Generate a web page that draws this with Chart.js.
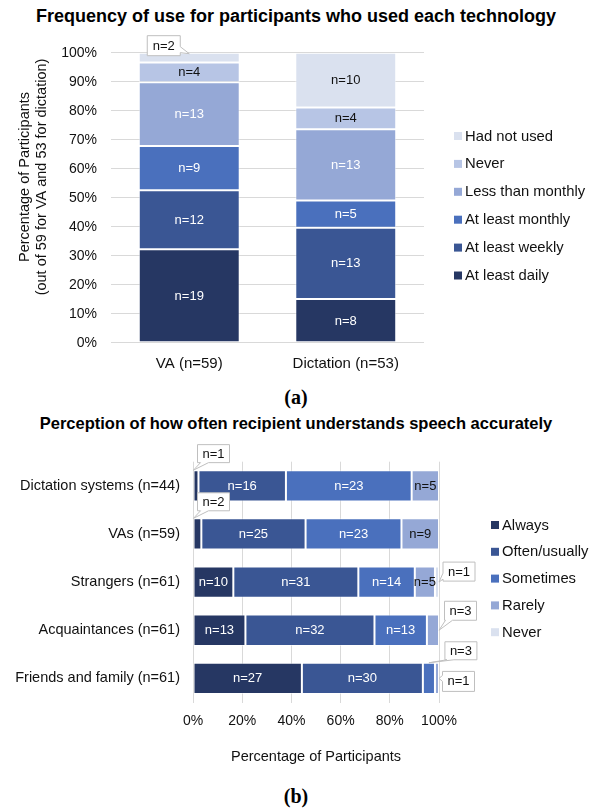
<!DOCTYPE html>
<html>
<head>
<meta charset="utf-8">
<script src="https://cdn.jsdelivr.net/npm/chart.js@4.4.1/dist/chart.umd.min.js"></script>
<style>
  body { margin: 0; background: #fff; font-family: "Liberation Sans", Arial, sans-serif; }
  #wrap { position: relative; width: 592px; height: 809px; overflow: hidden; }
  canvas { position: absolute; left: 0; }
  .ttl { position: absolute; left: 0; width: 592px; text-align: center; font-weight: bold; line-height: 22px; color: #000; }
  .cap { position: absolute; left: 0; width: 592px; text-align: center; font-family: "Liberation Serif", "DejaVu Serif", serif; font-weight: bold; font-size: 20px; line-height: 24px; color: #000; }
</style>
</head>
<body>
<div id="wrap">
  <div class="ttl" style="top:5px; font-size:18px">Frequency of use for participants who used each technology</div>
  <canvas id="chartA" width="592" height="385" style="top:0"></canvas>
  <div class="cap" style="top:385px">(a)</div>

  <div class="ttl" style="top:412px; font-size:16.5px">Perception of how often recipient understands speech accurately</div>
  <canvas id="chartB" width="592" height="340" style="top:440px"></canvas>
  <div class="cap" style="top:784px">(b)</div>
</div>

<script>
// ---- chart (a) data : counts per technology ----
const techLabels = ['VA (n=59)', 'Dictation (n=53)'];
const freqNames = ['At least daily', 'At least weekly', 'At least monthly', 'Less than monthly', 'Never', 'Had not used'];
const atLeastDaily = [19, 8];
const atLeastWeekly = [12, 13];
const atLeastMonthly = [9, 5];
const lessThanMonthly = [13, 13];
const neverUsed = [4, 4];
const hadNotUsed = [2, 10];
const yTitleA = ['Percentage of Participants', '(out of 59 for VA and 53 for dictation)'];

// ---- chart (b) data : counts per recipient ----
const groupLabels = ['Dictation systems (n=44)', 'VAs (n=59)', 'Strangers (n=61)', 'Acquaintances (n=61)', 'Friends and family (n=61)'];
const accNames = ['Always', 'Often/usually', 'Sometimes', 'Rarely', 'Never'];
const always = [1, 2, 10, 13, 27];
const oftenUsually = [16, 25, 31, 32, 30];
const sometimes = [23, 23, 14, 13, 3];
const rarely = [5, 9, 5, 3, 1];
const never = [0, 0, 1, 0, 0];
const xTitleB = 'Percentage of Participants';

const FONT = '"Liberation Sans", Arial, sans-serif';
Chart.defaults.font.family = FONT;
Chart.defaults.color = '#111';

// colours, darkest first
const colorsA = ['#263763', '#3a5694', '#4a70bd', '#95a8d6', '#b7c5e5', '#dae1ef'];
const textA = ['#fff', '#fff', '#fff', '#fff', '#111', '#111'];
const colorsB = ['#263763', '#3a5694', '#4a70bd', '#95a8d6', '#dae1ef'];
const textB = ['#fff', '#fff', '#fff', '#111', '#111'];

// counts -> percent of each bar's total
function toPercent(list) {
  const totals = list[0].map((_, i) => list.reduce((s, arr) => s + arr[i], 0));
  return list.map(arr => arr.map((v, i) => v / totals[i] * 100));
}

function makeSets(names, list, colors, txt, catPct) {
  const pct = toPercent(list);
  return names.map((name, k) => ({
    label: name,
    data: pct[k],
    counts: list[k],
    labelColor: txt[k],
    backgroundColor: colors[k],
    borderColor: 'rgba(255,255,255,0.5)',
    borderWidth: 1,
    borderSkipped: false,
    barPercentage: 1,
    categoryPercentage: catPct
  }));
}

// little boxed label with a pointer, like excel's callouts
function drawCallout(ctx, text, tx, ty, c) {
  const w = c.w || 32, h = c.h || 18;
  const L = tx + c.box[0] - w / 2, T = ty + c.box[1] - h / 2, R = L + w, B = T + h;
  const o1 = c.gap[0], o2 = c.gap[1];
  ctx.beginPath();
  ctx.moveTo(L, T);
  ctx.lineTo(R, T);
  if (c.side === 'right') { ctx.lineTo(R, T + o1); ctx.lineTo(tx, ty); ctx.lineTo(R, T + o2); }
  ctx.lineTo(R, B);
  if (c.side === 'bottom') { ctx.lineTo(L + o2, B); ctx.lineTo(tx, ty); ctx.lineTo(L + o1, B); }
  ctx.lineTo(L, B);
  if (c.side === 'left') { ctx.lineTo(L, T + o2); ctx.lineTo(tx, ty); ctx.lineTo(L, T + o1); }
  ctx.closePath();
  ctx.fillStyle = '#fff';
  ctx.fill();
  ctx.strokeStyle = '#bfbfbf';
  ctx.lineWidth = 1;
  ctx.stroke();
  ctx.fillStyle = '#111';
  ctx.fillText(text, (L + R) / 2, (T + B) / 2 + 0.5);
}

const extras = {
  id: 'extras',
  afterDatasetsDraw(chart, args, opts) {
    const ctx = chart.ctx;
    const horiz = chart.options.indexAxis === 'y';
    ctx.save();
    ctx.font = '13px ' + FONT;
    ctx.textAlign = 'center';
    ctx.textBaseline = 'middle';
    const later = [];
    chart.data.datasets.forEach((ds, di) => {
      chart.getDatasetMeta(di).data.forEach((bar, i) => {
        const n = ds.counts[i];
        if (!n) return;
        const p = bar.getProps(['x', 'y', 'base', 'width', 'height'], true);
        let left, top, w, h;
        if (horiz) {
          left = Math.min(p.base, p.x); w = Math.abs(p.x - p.base);
          top = p.y - p.height / 2; h = p.height;
        } else {
          left = p.x - p.width / 2; w = p.width;
          top = Math.min(p.y, p.base); h = Math.abs(p.base - p.y);
        }
        const c = (opts.callouts || []).find(q => q.ds === di && q.i === i);
        if (c) {
          later.push([ 'n=' + n, left + c.tip[0] * w, top + c.tip[1] * h, c ]);
        } else {
          ctx.fillStyle = ds.labelColor;
          ctx.fillText('n=' + n, left + w / 2, top + h / 2 + 0.5);
        }
      });
    });
    later.forEach(a => drawCallout(ctx, a[0], a[1], a[2], a[3]));
    ctx.restore();
  },
  afterDraw(chart, args, opts) {
    const ctx = chart.ctx;
    ctx.save();
    // legend on the right
    const lg = opts.legend;
    if (lg) {
      let sets = chart.data.datasets.slice();
      if (lg.reverse) sets.reverse();
      ctx.font = '14.8px ' + FONT;
      ctx.textAlign = 'left';
      ctx.textBaseline = 'middle';
      sets.forEach((ds, k) => {
        const y = lg.y + k * lg.step;
        ctx.fillStyle = ds.backgroundColor;
        ctx.fillRect(lg.x, y - 4, 8, 8);
        ctx.fillStyle = '#111';
        ctx.fillText(ds.label, lg.x + 11, y + 0.5);
      });
    }
    // rotated two-line y title
    const yt = opts.yTitle;
    if (yt) {
      ctx.font = '14.5px ' + FONT;
      ctx.textAlign = 'center';
      ctx.textBaseline = 'middle';
      ctx.fillStyle = '#111';
      yt.lines.forEach((line, k) => {
        ctx.save();
        ctx.translate(yt.x[k], yt.y);
        ctx.rotate(-Math.PI / 2);
        ctx.fillText(line, 0, 0);
        ctx.restore();
      });
    }
    ctx.restore();
  }
};

// ---------- chart (a) ----------
new Chart(document.getElementById('chartA'), {
  type: 'bar',
  data: {
    labels: techLabels,
    datasets: makeSets(freqNames,
      [atLeastDaily, atLeastWeekly, atLeastMonthly, lessThanMonthly, neverUsed, hadNotUsed],
      colorsA, textA, 0.645)
  },
  options: {
    responsive: false,
    animation: false,
    devicePixelRatio: 1,
    layout: { padding: { top: 52.7, right: 168, bottom: 0, left: 0 } },
    plugins: {
      legend: { display: false },
      title: { display: false },
      tooltip: { enabled: false },
      extras: {
        legend: { x: 454, y: 136, step: 27.9, reverse: true },
        yTitle: { lines: yTitleA, x: [25, 42], y: 177 },
        callouts: [
          { ds: 5, i: 0, tip: [0.5, 0.1], box: [-25.5, -8], side: 'right', gap: [11, 17], w: 33, h: 20 }
        ]
      }
    },
    scales: {
      x: {
        stacked: true,
        grid: { display: false, drawTicks: false },
        border: { display: false },
        ticks: { font: { size: 15 }, padding: 12 },
        afterFit: s => { s.height = 42.3; }
      },
      y: {
        stacked: true,
        min: 0,
        max: 100,
        ticks: { stepSize: 10, font: { size: 14 }, padding: 14, callback: v => v + '%' },
        grid: { color: '#d9d9d9', drawTicks: false },
        border: { display: false },
        afterFit: s => { s.width = 111; }
      }
    }
  },
  plugins: [extras]
});

// ---------- chart (b) ----------
new Chart(document.getElementById('chartB'), {
  type: 'bar',
  data: {
    labels: groupLabels,
    datasets: makeSets(accNames, [always, oftenUsually, sometimes, rarely, never], colorsB, textB, 0.65)
  },
  options: {
    indexAxis: 'y',
    responsive: false,
    animation: false,
    devicePixelRatio: 1,
    layout: { padding: { top: 17.5, right: 153, bottom: 14.6, left: 0 } },
    plugins: {
      legend: { display: false },
      title: { display: false },
      tooltip: { enabled: false },
      extras: {
        legend: { x: 491, y: 85, step: 26.8, reverse: false },
        callouts: [
          { ds: 0, i: 0, tip: [0, 0], box: [20, -16.5], side: 'bottom', gap: [3, 11] },
          { ds: 0, i: 1, tip: [0, 0], box: [20, -16.5], side: 'bottom', gap: [3, 11] },
          { ds: 4, i: 2, tip: [1, 0.5], box: [20, -10.5], side: 'left', gap: [11, 17], h: 19 },
          { ds: 3, i: 3, tip: [1, 0.5], box: [21.5, -19.5], side: 'bottom', gap: [1, 8], h: 19 },
          { ds: 2, i: 4, tip: [0.5, 0], box: [32, -12], side: 'bottom', gap: [2, 9] },
          { ds: 3, i: 4, tip: [1, 0.5], box: [19.5, 3], side: 'left', gap: [4, 10], h: 20 }
        ]
      }
    },
    scales: {
      x: {
        stacked: true,
        min: 0,
        max: 100,
        ticks: { stepSize: 20, font: { size: 14 }, padding: 10, callback: v => v + '%' },
        grid: { color: '#d9d9d9', drawTicks: false },
        border: { display: false },
        title: { display: true, text: xTitleB, font: { size: 14.5 }, padding: 0 },
        afterFit: s => { s.height = 62.9; }
      },
      y: {
        stacked: true,
        grid: { display: false, drawTicks: false },
        border: { display: false },
        ticks: { font: { size: 14.5 }, padding: 13 },
        afterFit: s => { s.width = 193; }
      }
    }
  },
  plugins: [extras]
});
</script>
</body>
</html>
